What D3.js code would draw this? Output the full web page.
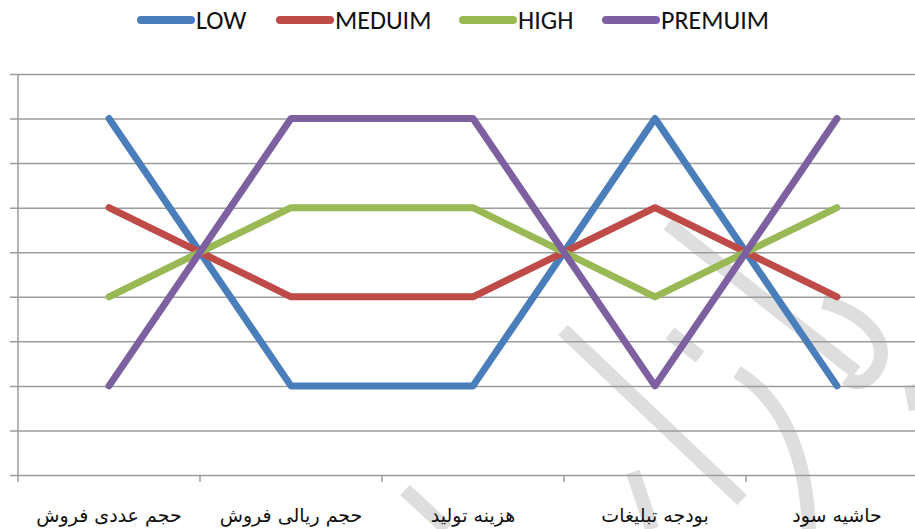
<!DOCTYPE html>
<html>
<head>
<meta charset="utf-8">
<script src="https://cdn.jsdelivr.net/npm/d3@7"></script>
<style>
  body { margin: 0; background: #fff; }
  svg { display: block; }
  .legend text { font-family: "Liberation Sans Narrow", Carlito, "Liberation Sans", sans-serif; font-size: 26px; fill: #111; }
  .x-label { font-family: "DejaVu Sans", sans-serif; font-size: 19px; fill: #111; }
</style>
</head>
<body>
<div class="chart"></div>
<script>
// data
const categories = ['حجم عددی فروش', 'حجم ریالی فروش', 'هزینه تولید', 'بودجه تبلیغات', 'حاشیه سود'];
const seriesNames = ['LOW', 'MEDUIM', 'HIGH', 'PREMUIM'];
const lowValues = [8, 2, 2, 8, 2];
const meduimValues = [6, 4, 4, 6, 4];
const highValues = [4, 6, 6, 4, 6];
const premuimValues = [2, 8, 8, 2, 8];
const yTicks = [0, 1, 2, 3, 4, 5, 6, 7, 8, 9];

const colors = ['#4a7ebb', '#be4b48', '#98b954', '#7d60a0'];
const series = [lowValues, meduimValues, highValues, premuimValues].map((v, i) => ({
  name: seriesNames[i],
  color: colors[i],
  values: v.map((d, j) => ({ cat: categories[j], value: d }))
}));

const svg_width = 915, svg_height = 529;
const margin = { top: 74, left: 18, bottom: 54 };
const plot_right = 928;

const svg = d3.select('.chart').append('svg')
  .attr('width', svg_width).attr('height', svg_height);

const x = d3.scaleBand().domain(categories).range([margin.left, plot_right]);
const y = d3.scaleLinear().domain([0, 9]).range([svg_height - margin.bottom, margin.top]);

// watermark in the background (light grey strokes)
const wm = svg.append('g').attr('fill', 'none').attr('stroke', '#dedede').attr('stroke-width', 14);
[
  'M668,224 L856,372',
  'M823,302 C868,314 892,344 876,370 C868,382 857,386 846,378',
  'M563,330 L742,500',
  'M737,372 C780,398 806,450 809,529',
  'M670,333 L700,357',
  'M405,490 L447,529',
  'M633,472 L652,529',
  'M911,385 L916,410'
].forEach(p => wm.append('path').attr('d', p));

// gridlines
const grid = svg.append('g')
  .attr('transform', `translate(${margin.left},0)`)
  .call(d3.axisLeft(y).tickValues(yTicks).tickFormat('')
    .tickSizeInner(-(plot_right - margin.left)).tickSizeOuter(0));
grid.select('.domain').remove();
grid.selectAll('.tick line').attr('x1', -8).attr('stroke', '#9c9c9c').attr('stroke-width', 1.5);

// vertical axis line
svg.append('line')
  .attr('x1', margin.left).attr('x2', margin.left)
  .attr('y1', y(9)).attr('y2', y(0))
  .attr('stroke', '#9c9c9c').attr('stroke-width', 1.5);

// x axis with tick marks on band boundaries
const xAxis = svg.append('g')
  .attr('transform', `translate(0,${y(0)})`)
  .call(d3.axisBottom(x).tickSize(0).tickPadding(34));
xAxis.select('.domain').remove();
xAxis.selectAll('text').attr('class', 'x-label').attr('font-family', null).attr('font-size', null);
xAxis.selectAll('.bound')
  .data(categories)
  .enter().append('line')
  .attr('class', 'bound')
  .attr('x1', d => x(d)).attr('x2', d => x(d))
  .attr('y1', 0).attr('y2', 7)
  .attr('stroke', '#9c9c9c').attr('stroke-width', 1.5);

// lines
const line = d3.line()
  .x(d => x(d.cat) + x.bandwidth() / 2)
  .y(d => y(d.value));

svg.append('g').selectAll('path')
  .data(series)
  .enter().append('path')
  .attr('d', d => line(d.values))
  .attr('fill', 'none')
  .attr('stroke', d => d.color)
  .attr('stroke-width', 7)
  .attr('stroke-linecap', 'round')
  .attr('stroke-linejoin', 'round');

// legend
const legendX = [137, 276, 459, 602];
const legend = svg.append('g').attr('class', 'legend');
const item = legend.selectAll('g')
  .data(series)
  .enter().append('g')
  .attr('transform', (d, i) => `translate(${legendX[i]},20)`);
item.append('line')
  .attr('x1', 4).attr('x2', 54)
  .attr('stroke', d => d.color)
  .attr('stroke-width', 8)
  .attr('stroke-linecap', 'round');
item.append('text')
  .attr('x', 59).attr('y', 9)
  .text(d => d.name);
</script>
</body>
</html>
